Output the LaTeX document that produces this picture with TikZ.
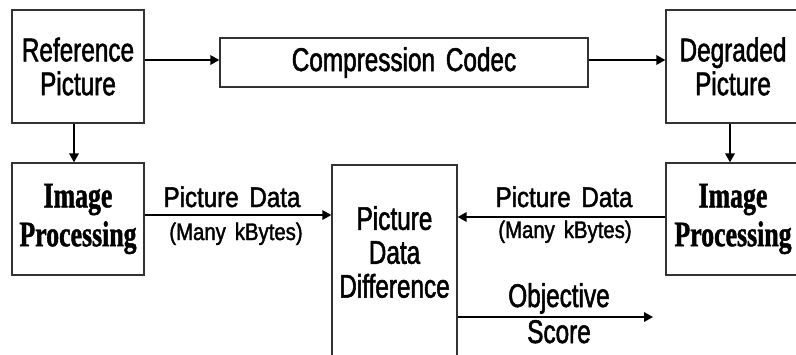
\documentclass[tikz,border=0pt]{standalone}
\usepackage{fontspec}
\setmainfont{Liberation Sans}[FakeStretch=0.74,FakeBold=1.6,WordSpace=1.6]
\newfontfamily\lblfont{Liberation Sans}[FakeStretch=0.85,FakeBold=1.6,WordSpace=1.6]
\newfontfamily\ipfont{Liberation Serif}[FakeStretch=0.72,FakeBold=1.2]
\usetikzlibrary{arrows.meta}
\begin{document}
\begin{tikzpicture}[x=1bp,y=-1bp,
  box/.style={draw=black!80,line width=1.3bp,inner sep=0pt,align=center},
  arr/.style={line width=1.8bp,-{Triangle[length=9bp,width=9.5bp]}},
  big/.style={font=\fontsize{33}{34}\selectfont},
  proc/.style={font=\ipfont\bfseries\fontsize{36}{39}\selectfont},
  lblA/.style={anchor=base,font=\lblfont\fontsize{28.5}{30}\selectfont},
  lblB/.style={anchor=base,font=\lblfont\fontsize{24}{26}\selectfont}]
\useasboundingbox (0,0) rectangle (796,354);
\clip (0,0) rectangle (796,354);
\fill[white] (0,0) rectangle (796,354);

% top row
\node[box,big,minimum width=132bp,minimum height=113bp] (ref) at (78,66.5) {Reference\\Picture};
\node[box,big,minimum width=368bp,minimum height=49bp] (codec) at (404,62.5) {Compression Codec};
\node[box,big,minimum width=134bp,minimum height=113bp] (deg) at (733,66.5) {Degraded\\Picture};

% second row
\node[box,proc,minimum width=132bp,minimum height=112bp] (ipl) at (78,219) {Image\\Processing};
\node[box,proc,minimum width=134bp,minimum height=112bp] (ipr) at (733,219) {Image\\Processing};
\node[box,minimum width=125bp,minimum height=205bp] (diff) at (394.5,267.5) {};
\node[big,align=center,inner sep=0pt] (difftxt) at (394.5,252) {Picture\\Data\\Difference};

% connectors
\draw[arr] (ref.east |- 0,60) -- (codec.west |- 0,60);
\draw[arr] (codec.east |- 0,60) -- (deg.west |- 0,60);
\draw[arr] (ref.south -| 74,0) -- (ipl.north -| 74,0);
\draw[arr] (deg.south -| 730,0) -- (ipr.north -| 730,0);
\draw[arr] (ipl.east |- 0,215) -- (diff.west |- 0,215);
\draw[arr] (ipr.west |- 0,217) -- (diff.east |- 0,217);
\coordinate (score) at (653,317);
\draw[arr] (diff.east |- score) -- (score);

% connector labels
\node[lblA] (pdl) at (232,207) {Picture Data};
\node[lblB] (mkl) at (236,240) {(Many kBytes)};
\node[lblA] (pdr) at (564,207) {Picture Data};
\node[lblB] (mkr) at (565,238) {(Many kBytes)};
\node[anchor=base,big] (obj) at (559,307) {Objective};
\node[anchor=base,big] (scr) at (559,343) {Score};
\end{tikzpicture}
\end{document}
